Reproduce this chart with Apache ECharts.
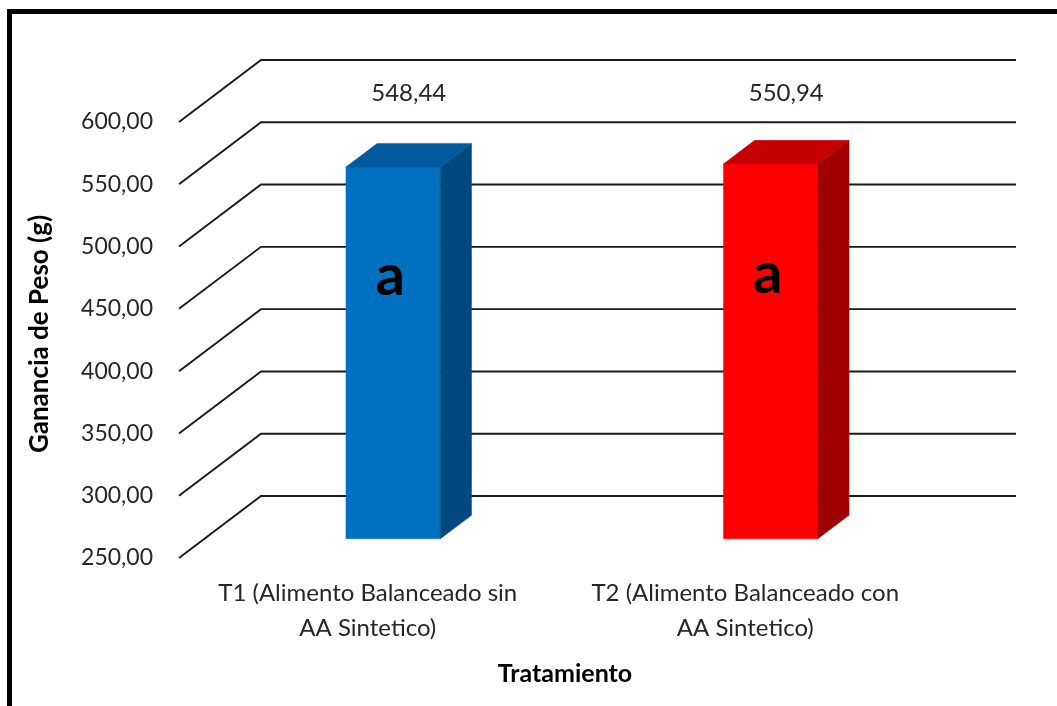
<!DOCTYPE html>
<html>
<head>
<meta charset="utf-8">
<title>Ganancia de Peso por Tratamiento</title>
<script src="https://cdn.jsdelivr.net/npm/echarts@6/dist/echarts.min.js"></script>
<style>
  html, body { margin: 0; padding: 0; background: #ffffff; }
  #chart { width: 1057px; height: 706px; }
</style>
</head>
<body>
<div id="chart"></div>
<script>
// Treatments and mean weight gain (g)
const categories = [
  'T1 (Alimento Balanceado sin\nAA Sintetico)',
  'T2 (Alimento Balanceado con\nAA Sintetico)'
];
const gainValues = [548.44, 550.94];
const groupLetters = ['a', 'a'];
const yTicks = [250, 300, 350, 400, 450, 500, 550, 600];

// Face colours per bar: front, top, side
const barFront = ['#0070C0', '#FF0000'];
const barTop = ['#005A9E', '#C40000'];
const barSide = ['#00487F', '#A00000'];

// Pseudo-3D depth of the plot box (pixel offset from front plane to back wall)
const DEPTH_DX = 82;
const DEPTH_DY = -62;
const BAR_DEPTH_FROM = 0.31;
const BAR_DEPTH_TO = 0.69;
const BAR_WIDTH_RATIO = 0.25;
const LETTER_LEVEL = 0.69;

const FONT = 'Lato, "Open Sans", sans-serif';
const fmt = v => v.toFixed(2).replace('.', ',');

const chart = echarts.init(document.getElementById('chart'), null, { renderer: 'canvas' });

// Floor-to-back-wall guide line for one value tick
function gridRender(params, api) {
  const v = api.value(1);
  const p = api.coord([0, v]);
  const cs = params.coordSys;
  const y = p[1];
  const x0 = cs.x;
  return {
    type: 'polyline',
    shape: {
      points: [
        [x0, y],
        [x0 + DEPTH_DX, y + DEPTH_DY],
        [x0 + cs.width + DEPTH_DX, y + DEPTH_DY]
      ]
    },
    style: { stroke: '#1a1a1a', lineWidth: 1.9, fill: null }
  };
}

// Box-shaped bar: front face, right side, top cap, letter and value label
function barRender(params, api) {
  const idx = params.dataIndex;
  const cat = api.value(0);
  const val = api.value(1);
  const base = api.coord([cat, yTicks[0]]);
  const top = api.coord([cat, val]);
  const w = api.size([1, 0])[0] * BAR_WIDTH_RATIO;
  const fdx = DEPTH_DX * BAR_DEPTH_FROM, fdy = DEPTH_DY * BAR_DEPTH_FROM;
  const bdx = DEPTH_DX * BAR_DEPTH_TO, bdy = DEPTH_DY * BAR_DEPTH_TO;
  const cx = base[0] + fdx;
  const xl = cx - w / 2, xr = cx + w / 2;
  const yb = base[1] + fdy, yt = top[1] + fdy;
  const ddx = bdx - fdx, ddy = bdy - fdy;

  const front = [[xl, yb], [xr, yb], [xr, yt], [xl, yt]];
  const side = [[xr, yb], [xr + ddx, yb + ddy], [xr + ddx, yt + ddy], [xr, yt]];
  const cap = [[xl, yt], [xr, yt], [xr + ddx, yt + ddy], [xl + ddx, yt + ddy]];

  // value label sits above the bar, at the top of the value range, mid depth
  const maxPt = api.coord([cat, yTicks[yTicks.length - 1]]);
  const midDx = DEPTH_DX * 0.5, midDy = DEPTH_DY * 0.5;

  return {
    type: 'group',
    children: [
      { type: 'polygon', shape: { points: front }, style: { fill: barFront[idx], stroke: barFront[idx], lineWidth: 0.5 } },
      { type: 'polygon', shape: { points: side }, style: { fill: barSide[idx], stroke: barSide[idx], lineWidth: 0.5 } },
      { type: 'polygon', shape: { points: cap }, style: { fill: barTop[idx], stroke: barTop[idx], lineWidth: 0.5 } },
      {
        type: 'text',
        x: cx - 3,
        y: yb + (yt - yb) * LETTER_LEVEL - 6,
        style: {
          text: groupLetters[idx], fill: '#000000',
          font: 'bold 58px ' + FONT, align: 'center', verticalAlign: 'middle'
        }
      },
      {
        type: 'text',
        x: maxPt[0] + midDx,
        y: maxPt[1] + midDy + 2,
        style: {
          text: fmt(val), fill: '#262626',
          font: '24px ' + FONT, align: 'center', verticalAlign: 'middle'
        }
      }
    ]
  };
}

const option = {
  backgroundColor: '#ffffff',
  animation: false,
  grid: { left: 179, right: 123, top: 122, bottom: 148, containLabel: false },
  xAxis: {
    type: 'category',
    data: categories,
    axisLine: { show: false },
    axisTick: { show: false },
    axisLabel: {
      interval: 0, margin: 18, color: '#262626',
      fontFamily: FONT, fontSize: 24, lineHeight: 35
    },
    name: 'Tratamiento',
    nameLocation: 'middle',
    nameGap: 103,
    nameTextStyle: {
      fontFamily: FONT, fontSize: 25, fontWeight: 'bold', color: '#000000',
      padding: [0, 0, 0, 17]
    }
  },
  yAxis: {
    type: 'value',
    min: 250, max: 600, interval: 50,
    axisLine: { show: false },
    axisTick: { show: false },
    splitLine: { show: false },
    axisLabel: {
      margin: 26, color: '#262626', fontFamily: FONT, fontSize: 23,
      formatter: v => fmt(v)
    },
    name: 'Ganancia de Peso (g)',
    nameLocation: 'middle',
    nameRotate: 90,
    nameGap: 126,
    nameTextStyle: {
      fontFamily: FONT, fontSize: 26, fontWeight: 'bold', color: '#000000',
      padding: [0, 0, 0, 12]
    }
  },
  series: [
    {
      type: 'custom',
      name: 'grid',
      z: 1,
      silent: true,
      renderItem: gridRender,
      encode: { x: 0, y: 1 },
      data: yTicks.map(t => [0, t])
    },
    {
      type: 'custom',
      name: 'Ganancia de Peso',
      z: 2,
      renderItem: barRender,
      encode: { x: 0, y: 1 },
      data: gainValues.map((v, i) => [i, v])
    }
  ],
  graphic: [
    {
      type: 'rect',
      z: 100,
      shape: { x: 9.5, y: 11.5, width: 1060, height: 720 },
      style: { fill: null, stroke: '#000000', lineWidth: 5 }
    }
  ]
};

chart.setOption(option);
</script>
</body>
</html>
